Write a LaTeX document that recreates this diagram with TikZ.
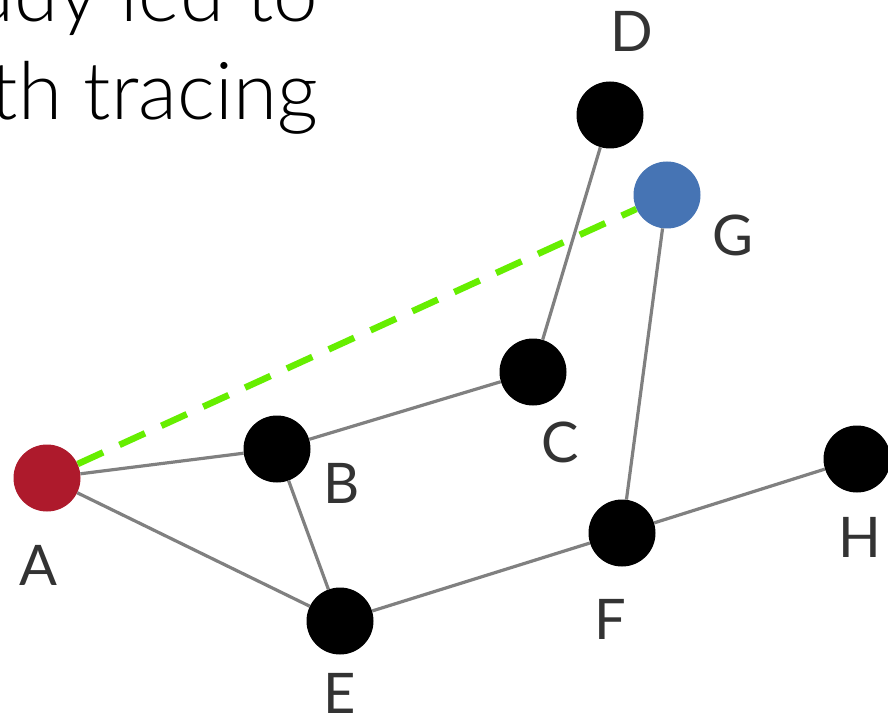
\documentclass[tikz,border=0pt]{standalone}
\usepackage{fontspec}
\setmainfont{Lato}
\newfontfamily\lightfont{Lato Light}
\definecolor{nodered}{HTML}{AE1A2C}
\definecolor{nodeblue}{HTML}{4674B4}
\definecolor{edgegray}{HTML}{808080}
\definecolor{dashgreen}{HTML}{66EE00}
\definecolor{labelgray}{HTML}{333333}
\tikzset{
  vtx/.style={circle,fill=black,minimum size=67pt,inner sep=0pt},
  edge/.style={draw=edgegray,line width=3.2pt},
  lbl/.style={text=labelgray,font=\fontsize{56}{60}\selectfont,anchor=base,inner sep=0pt},
  headline/.style={font=\lightfont\fontsize{80}{90}\selectfont,anchor=base east,inner sep=0pt}
}
\begin{document}
\begin{tikzpicture}[x=1pt,y=-1pt]
\useasboundingbox (0,0) rectangle (888,719);
\clip (0,0) rectangle (888,719);
\fill[white] (0,0) rectangle (888,719);
\node[headline] (t1) at (318,22) {udy led to};
\node[headline] (t2) at (318,120) {th tracing};
% vertices
\node[vtx,fill=nodered] (A) at (47,478) {};
\node[vtx] (B) at (277,449) {};
\node[vtx] (C) at (533,372) {};
\node[vtx] (D) at (610,115) {};
\node[vtx,fill=nodeblue] (G) at (667,195) {};
\node[vtx] (E) at (340,621) {};
\node[vtx] (F) at (622,533) {};
\node[vtx] (H) at (857,459) {};
% edges
\draw[edge] (A) -- (B);
\draw[edge] (A) -- (E);
\draw[edge] (B) -- (C);
\draw[edge] (B) -- (E);
\draw[edge] (C) -- (D);
\draw[edge] (E) -- (F);
\draw[edge] (F) -- (G);
\draw[edge] (F) -- (H);
\draw[draw=dashgreen,line width=6.5pt,dash pattern=on 28pt off 18pt] (A) -- (G);
% labels
\node[lbl] (lD) at (632,52) {D};
\node[lbl] (lG) at (733,255) {G};
\node[lbl] (lC) at (560,462) {C};
\node[lbl] (lB) at (342,503) {B};
\node[lbl] (lA) at (38,585) {A};
\node[lbl] (lE) at (340,713) {E};
\node[lbl] (lF) at (610,639) {F};
\node[lbl] (lH) at (860,557) {H};
\end{tikzpicture}
\end{document}
